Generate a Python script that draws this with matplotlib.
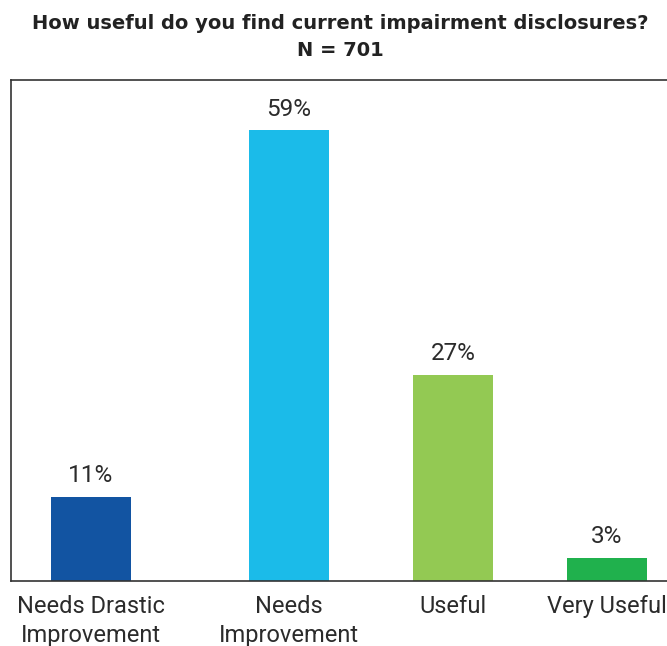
import matplotlib
matplotlib.use("Agg")
from matplotlib import pyplot as plt

categories = ["Needs Drastic\nImprovement", "Needs\nImprovement", "Useful", "Very Useful"]
values = [11, 59, 27, 3]
labels = ["11%", "59%", "27%", "3%"]
xpos = [0, 2.475, 4.525, 6.45]
colors = ["#1254A2", "#1BBBE9", "#93C953", "#20B14D"]

fig = plt.figure(figsize=(6.67, 6.46), dpi=100)
ax = fig.add_axes([11 / 667, 65 / 646, 669 / 667, 501 / 646])

ax.bar(xpos, values, width=1.0, color=colors)
for x, v, lab in zip(xpos, values, labels):
    ax.annotate(lab, (x, v), xytext=(0, 7), textcoords="offset points",
                ha="center", va="bottom", fontsize=17.5, color="#2b2b2b",
                family="Roboto")

ax.set_xlim(-1.0, 7.3625)
ax.set_ylim(0, 65.6)
ax.set_yticks([])
ax.set_xticks(xpos)
ax.set_xticklabels(categories, fontsize=17, color="#2b2b2b", family="Roboto",
                   linespacing=1.35)
ax.tick_params(axis="x", length=0, pad=10)
for s in ax.spines.values():
    s.set_color("#333333")
    s.set_linewidth(1.2)

fig.text(340 / 667, 1 - 37 / 646, "How useful do you find current impairment disclosures?\nN = 701",
         ha="center", va="center", fontsize=14, weight="bold", color="#222222",
         family="DejaVu Sans", linespacing=1.5)

fig.savefig("out.png", dpi=100)
